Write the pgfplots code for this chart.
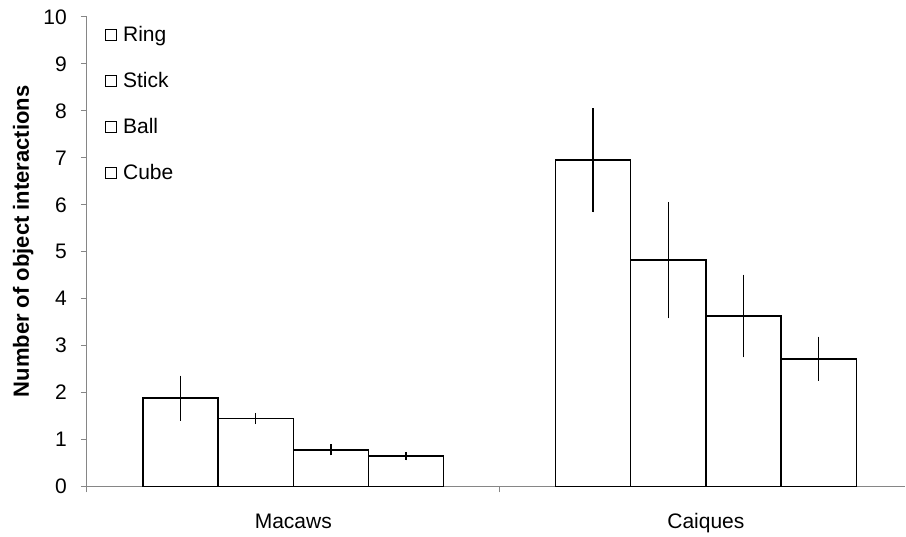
\documentclass[border=0pt]{standalone}
\usepackage{pgfplots}
\pgfplotsset{compat=1.18}
\usepackage{fontspec}
\setmainfont{Liberation Sans}
\definecolor{axgray}{RGB}{134,134,134}
\pgfplotstableread{
x y e
0 1.88 0.48
1 6.95 1.11
}\ring
\pgfplotstableread{
x y e
0 1.45 0.12
1 4.82 1.24
}\stick
\pgfplotstableread{
x y e
0 0.78 0.115
1 3.63 0.88
}\ball
\pgfplotstableread{
x y e
0 0.645 0.09
1 2.72 0.47
}\cube
\begin{document}
\fontsize{21}{25}\selectfont
\begin{tikzpicture}
\pgfplotsset{
  mybar/.style={draw=black, fill=white, line width=1.5pt,
    legend image code/.code={\draw[black,line width=0.9pt,fill=white] (0pt,-5.5pt) rectangle (11pt,5.5pt);},
    error bars/.cd, y dir=both, y explicit, error mark=none,
    error bar style={black, line width=1.5pt}}
}
\begin{axis}[
  scale only axis, width=818pt, height=469.5pt,
  xmin=-0.5, xmax=1.4825, ymin=0, ymax=10,
  ybar=0pt, bar width=75.2pt,
  axis x line*=bottom, axis y line*=left,
  axis line style={axgray, line width=1pt},
  ytick={0,1,...,10},
  tick align=outside, major tick length=6pt,
  tick style={axgray, line width=1pt},
  xtick={-0.5,0.5,1.5}, xticklabels={},
  extra x ticks={0,1}, extra x tick labels={Macaws,Caiques},
  extra x tick style={major tick length=0pt},
  ticklabel style={font=\fontsize{21}{25}\selectfont},
  xticklabel style={yshift=-20pt},
  yticklabel style={xshift=-7pt},
  /pgf/number format/assume math mode=true,
  ylabel={\textbf{Number of object interactions}},
  ylabel style={at={(axis description cs:-0.078,0.522)}, anchor=center, font=\fontsize{22}{26}\selectfont},
  legend style={draw=none, fill=none, at={(axis description cs:0.022,0.985)}, anchor=north west,
    font=\fontsize{21}{25}\selectfont, row sep=23.5pt, inner sep=0pt,
    /tikz/every odd column/.append style={column sep=4pt}},
  legend cell align=left,
  clip=false,
]
\addplot[mybar] table[x=x,y=y,y error=e] {\ring};
\addplot[mybar] table[x=x,y=y,y error=e] {\stick};
\addplot[mybar] table[x=x,y=y,y error=e] {\ball};
\addplot[mybar] table[x=x,y=y,y error=e] {\cube};
\legend{Ring,Stick,Ball,Cube}
\coordinate (O) at (rel axis cs:0,0);
\end{axis}
\pgfresetboundingbox
\path[use as bounding box] ([xshift=-87pt,yshift=-50.5pt]O) rectangle ([xshift=819pt,yshift=486.5pt]O);
\end{tikzpicture}
\end{document}
